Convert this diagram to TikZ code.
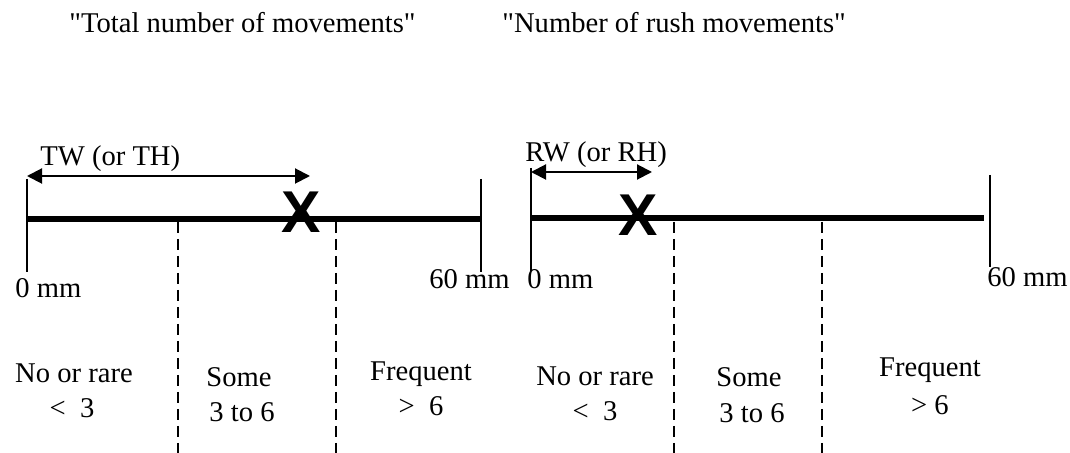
\documentclass[tikz,border=0pt]{standalone}
\usepackage{fontspec}
\setmainfont{Liberation Serif}
\newfontfamily\xfont{Liberation Sans}
\usetikzlibrary{arrows.meta}
\begin{document}
\begin{tikzpicture}[x=0.5pt,y=-0.5pt,
  lbl/.style={font=\fontsize{14.3}{17}\selectfont, inner sep=0pt},
  tickline/.style={line width=1pt},
  axisline/.style={line width=3pt},
  zoneline/.style={line width=1pt, dash pattern=on 5.5pt off 3pt},
  dimline/.style={line width=1pt, {Triangle[length=7.5pt,width=7.5pt]}-{Triangle[length=7.5pt,width=7.5pt]}},
  xmark/.style={font=\xfont\bfseries\fontsize{29.5}{29.5}\selectfont, inner sep=0pt}]
\useasboundingbox (0,0) rectangle (1070,453);

% titles
\node[lbl, anchor=base west] (t1) at (69,33) {\textquotedbl Total number of movements\textquotedbl};
\node[lbl, anchor=base west] (t2) at (502,33) {\textquotedbl Number of rush movements\textquotedbl};

% ---------- left scale ----------
\coordinate (La) at (27,219);
\coordinate (Lb) at (481,219);
\coordinate (LaT) at (27,179);
\coordinate (LaB) at (27,272);
\coordinate (LbT) at (481,179);
\coordinate (LbB) at (481,272);
\coordinate (LarA) at (27,176);
\coordinate (LarB) at (310,176);
\coordinate (Ld1T) at (178,222);
\coordinate (Ld1B) at (178,453);
\coordinate (Ld2T) at (336,222);
\coordinate (Ld2B) at (336,453);

\draw[axisline] (La) -- (Lb);
\draw[tickline] (LaT) -- (LaB);
\draw[tickline] (LbT) -- (LbB);
\draw[dimline] (LarA) -- (LarB);
\draw[zoneline] (Ld1T) -- (Ld1B);
\draw[zoneline] (Ld2T) -- (Ld2B);
\node[xmark] (Lx) at (301,212) {X};

\node[lbl, anchor=base west] (Ltw) at (40,166) {TW (or TH)};
\node[lbl, anchor=base west] (L0) at (15,298) {0 mm};
\node[lbl, anchor=base west] (L60) at (429,289) {60 mm};

\node[lbl, anchor=base] (Ln1) at (74,383) {No or rare};
\node[lbl, anchor=base] (Ln2) at (72,418) {<\ \ 3};
\node[lbl, anchor=base] (Ls1) at (239,387) {Some};
\node[lbl, anchor=base] (Ls2) at (242,422) {3 to 6};
\node[lbl, anchor=base] (Lf1) at (421,381) {Frequent};
\node[lbl, anchor=base] (Lf2) at (421,416) {>\ \ 6};

% ---------- right scale ----------
\coordinate (Ra) at (531,218);
\coordinate (Rb) at (984,218);
\coordinate (RaT) at (531,168);
\coordinate (RaB) at (531,271);
\coordinate (RbT) at (990,175);
\coordinate (RbB) at (990,267);
\coordinate (RarA) at (531,172);
\coordinate (RarB) at (652,172);
\coordinate (Rd1T) at (674,222);
\coordinate (Rd1B) at (674,453);
\coordinate (Rd2T) at (822,222);
\coordinate (Rd2B) at (822,453);

\draw[axisline] (Ra) -- (Rb);
\draw[tickline] (RaT) -- (RaB);
\draw[tickline] (RbT) -- (RbB);
\draw[dimline] (RarA) -- (RarB);
\draw[zoneline] (Rd1T) -- (Rd1B);
\draw[zoneline] (Rd2T) -- (Rd2B);
\node[xmark] (Rx) at (638,215) {X};

\node[lbl, anchor=base west] (Rrw) at (525,162) {RW (or RH)};
\node[lbl, anchor=base west] (R0) at (527,289) {0 mm};
\node[lbl, anchor=base west] (R60) at (987,287) {60 mm};

\node[lbl, anchor=base] (Rn1) at (595,386) {No or rare};
\node[lbl, anchor=base] (Rn2) at (595,421) {<\ \ 3};
\node[lbl, anchor=base] (Rs1) at (749,387) {Some};
\node[lbl, anchor=base] (Rs2) at (752,423) {3 to 6};
\node[lbl, anchor=base] (Rf1) at (930,377) {Frequent};
\node[lbl, anchor=base] (Rf2) at (930,415) {> 6};
\end{tikzpicture}
\end{document}
